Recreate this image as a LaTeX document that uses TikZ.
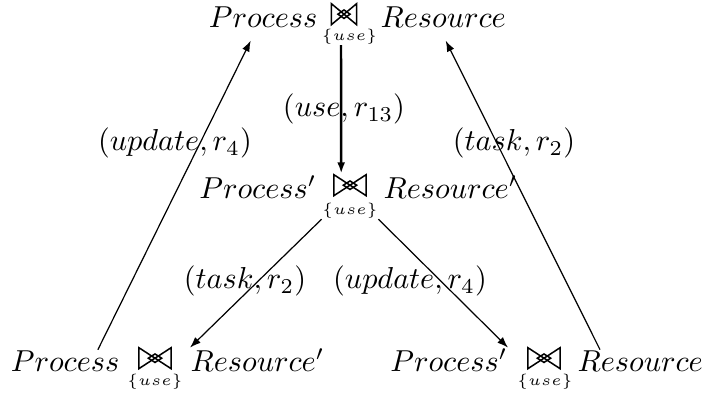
\documentclass[tikz,border=0pt]{standalone}
\usetikzlibrary{arrows.meta}
\newsavebox{\bowboxA}
\newsavebox{\bowboxB}
\sbox{\bowboxA}{\tikz[line width=0.5pt]{\draw (0,0)--(0,6.9pt)--(10.6pt,0)--(10.6pt,6.9pt)--cycle; \draw (5.3pt,2.05pt)--(7.5pt,3.45pt)--(5.3pt,4.85pt)--(3.1pt,3.45pt)--cycle;}}
\sbox{\bowboxB}{\tikz[line width=0.5pt]{\draw (0,0)--(0,6.9pt)--(8.3pt,0)--(8.3pt,6.9pt)--cycle; \draw (4.15pt,2.05pt)--(6.15pt,3.45pt)--(4.15pt,4.85pt)--(2.15pt,3.45pt)--cycle;}}
\begin{document}
\begin{tikzpicture}[x=0.33pt,y=-0.33pt,
  txt/.style={inner sep=0pt},
  bow/.style={inner sep=0pt, anchor=south},
  sub/.style={inner sep=0pt, anchor=center, font=\fontsize{5}{6}\selectfont},
  arr/.style={-{Latex[length=3.6pt,width=2.6pt]}, line width=0.4pt},
  thickarr/.style={arr, line width=0.8pt},
  lab/.style={inner sep=0pt}]
\useasboundingbox (0,0) rectangle (708,399);
% top
\node[bow] (tB) at (344,26) {\usebox{\bowboxB}};
\node[sub] (tS) at (349.5,37) {$\{use\}$};
\node[txt, anchor=base east] (tL) at (318,27) {$Process$};
\node[txt, anchor=base west] (tR) at (380,27) {$Resource$};
% middle
\node[bow] (mB) at (350,197) {\usebox{\bowboxA}};
\node[sub] (mS) at (350,211) {$\{use\}$};
\node[txt, anchor=base east] (mL) at (317,198) {$Process'$};
\node[txt, anchor=base west] (mR) at (383,198) {$Resource'$};
% bottom left
\node[bow] (blB) at (155,370) {\usebox{\bowboxA}};
\node[sub] (blS) at (155,382) {$\{use\}$};
\node[txt, anchor=base east] (blL) at (120,371) {$Process$};
\node[txt, anchor=base west] (blR) at (190,371) {$Resource'$};
% bottom right
\node[bow] (brB) at (544,370) {\usebox{\bowboxA}};
\node[sub] (brS) at (545,382) {$\{use\}$};
\node[txt, anchor=base east] (brL) at (508,371) {$Process'$};
\node[txt, anchor=base west] (brR) at (577,371) {$Resource$};
% connectors
\draw[thickarr] ([xshift=-2.8pt]tS.south) -- ([xshift=-2.9pt]mB.north);
\draw[arr] (mS.south west) -- (blR.north west);
\draw[arr] (mS.south east) -- (brL.north east);
\draw[arr] ([xshift=-7.3pt]blL.north east) -- ([xshift=-4.1pt,yshift=-4.3pt]tL.south);
\draw[arr] ([xshift=7.6pt]brR.north west) -- ([xshift=0.8pt,yshift=-4.3pt]tR.south);
% labels
\node[lab] (l1) at (344,109) {$(use{,}\,r_{13})$};
\node[lab] (l2) at (175,143) {$(update{,}\,r_4)$};
\node[lab] (l3) at (514,143) {$(task{,}\,r_2)$};
\node[lab] (l4) at (245,281) {$(task{,}\,r_2)$};
\node[lab] (l5) at (410,281) {$(update{,}\,r_4)$};
\end{tikzpicture}
\end{document}
